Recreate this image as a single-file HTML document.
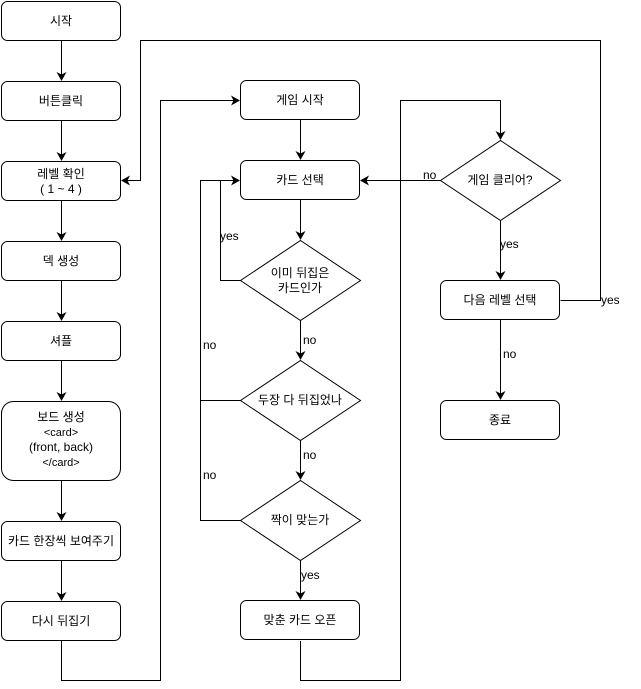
<!DOCTYPE html>
<html><head><meta charset="utf-8"><style>
html,body{margin:0;padding:0;background:#fff;}
svg{display:block;}
text{font-family:"Liberation Sans","Noto Sans CJK KR",sans-serif;font-size:12px;fill:#000;}
</style></head><body>
<svg width="641" height="689" viewBox="0 0 641 689" xmlns="http://www.w3.org/2000/svg">
<defs><marker id="a" markerWidth="10" markerHeight="10" refX="8" refY="5" orient="auto" markerUnits="userSpaceOnUse"><path d="M0,0 L9,5 L0,10 L2.5,5 Z" fill="#000"/></marker></defs>
<g fill="#fff" stroke="#000" stroke-width="1">
<rect x="1.5" y="1.5" width="119" height="39" rx="6"/>
<rect x="1.5" y="81.5" width="119" height="39" rx="6"/>
<rect x="1.5" y="161.5" width="119" height="39" rx="6"/>
<rect x="1.5" y="241.5" width="119" height="39" rx="6"/>
<rect x="1.5" y="321.5" width="119" height="39" rx="6"/>
<rect x="1.5" y="401.5" width="119" height="79" rx="12"/>
<rect x="1.5" y="521.5" width="119" height="39" rx="6"/>
<rect x="1.5" y="601.5" width="119" height="39" rx="6"/>
<rect x="240.5" y="80.5" width="119" height="39" rx="6"/>
<rect x="240.5" y="160.5" width="119" height="39" rx="6"/>
<path d="M300.5,240.5 L360.5,280.5 L300.5,320.5 L240.5,280.5 Z"/>
<path d="M300.5,360.5 L360.5,400.5 L300.5,440.5 L240.5,400.5 Z"/>
<path d="M300.5,480.5 L360.5,520.5 L300.5,560.5 L240.5,520.5 Z"/>
<rect x="240.5" y="600.5" width="119" height="39" rx="6"/>
<path d="M500.5,140.5 L560.5,180.5 L500.5,220.5 L440.5,180.5 Z"/>
<rect x="440.5" y="280.5" width="119" height="39" rx="6"/>
<rect x="440.5" y="400.5" width="119" height="39" rx="6"/>
</g>
<g fill="none" stroke="#000" stroke-width="1">
<path d="M61.5,41 V80" marker-end="url(#a)"/>
<path d="M61.5,121 V160" marker-end="url(#a)"/>
<path d="M61.5,201 V240" marker-end="url(#a)"/>
<path d="M61.5,281 V320" marker-end="url(#a)"/>
<path d="M61.5,361 V400" marker-end="url(#a)"/>
<path d="M61.5,481 V520" marker-end="url(#a)"/>
<path d="M61.5,561 V600" marker-end="url(#a)"/>
<path d="M61.5,641 V680.5 H160.5 V100.5 H239" marker-end="url(#a)"/>
<path d="M300.5,120 V159" marker-end="url(#a)"/>
<path d="M300.5,200 V239" marker-end="url(#a)"/>
<path d="M300.5,321 V359" marker-end="url(#a)"/>
<path d="M300.5,441 V479" marker-end="url(#a)"/>
<path d="M300.5,561 V599" marker-end="url(#a)"/>
<path d="M240.5,280.5 H220.5 V180.5 H239" marker-end="url(#a)"/>
<path d="M240.5,400.5 H200.5 V180.5 H220"/>
<path d="M240.5,520.5 H200.5 V400"/>
<path d="M300.5,641 V680.5 H400.5 V100.5 H500.5 V139" marker-end="url(#a)"/>
<path d="M440.5,180.5 H361" marker-end="url(#a)"/>
<path d="M500.5,221 V279" marker-end="url(#a)"/>
<path d="M500.5,320 V399" marker-end="url(#a)"/>
<path d="M560.5,300.5 H600.5 V40.5 H140.5 V180.5 H122" marker-end="url(#a)"/>
</g>
<g text-anchor="middle">
<text x="61" y="25">시작</text>
<text x="61" y="105">버튼클릭</text>
<text x="61" y="178">레벨 확인</text>
<text x="61" y="193">( 1 ~ 4 )</text>
<text x="61" y="265">덱 생성</text>
<text x="61" y="345">셔플</text>
<text x="61" y="421">보드 생성</text>
<text x="61" y="436" style="font-size:11px">&lt;card&gt;</text>
<text x="61" y="451">(front, back)</text>
<text x="61" y="466" style="font-size:11px">&lt;/card&gt;</text>
<text x="61" y="545">카드 한장씩 보여주기</text>
<text x="61" y="625">다시 뒤집기</text>
<text x="300" y="104">게임 시작</text>
<text x="300" y="184">카드 선택</text>
<text x="300" y="277">이미 뒤집은</text>
<text x="300" y="292">카드인가</text>
<text x="300" y="404">두장 다 뒤집었나</text>
<text x="300" y="524">짝이 맞는가</text>
<text x="300" y="624">맞춘 카드 오픈</text>
<text x="500" y="184">게임 클리어?</text>
<text x="500" y="304">다음 레벨 선택</text>
<text x="500" y="424">종료</text>
</g>
<text x="220" y="240">yes</text>
<text x="203" y="349">no</text>
<text x="203" y="479">no</text>
<text x="303" y="344">no</text>
<text x="303" y="459">no</text>
<text x="301" y="579">yes</text>
<text x="423" y="179">no</text>
<text x="500" y="248">yes</text>
<text x="503" y="358">no</text>
<text x="601" y="304">yes</text>
</svg>
</body></html>
